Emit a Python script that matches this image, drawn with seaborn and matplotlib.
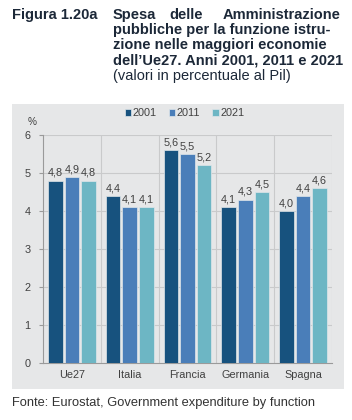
import matplotlib
matplotlib.use("Agg")
import matplotlib.pyplot as plt
import seaborn as sns
import pandas as pd
from matplotlib.patches import Rectangle

paesi = ["Ue27", "Italia", "Francia", "Germania", "Spagna"]
anni = ["2001", "2011", "2021"]
v2001 = [4.8, 4.4, 5.6, 4.1, 4.0]
v2011 = [4.9, 4.1, 5.5, 4.3, 4.4]
v2021 = [4.8, 4.1, 5.2, 4.5, 4.6]
yticks = [0, 1, 2, 3, 4, 5, 6]

colori = {"2001": "#17527e", "2011": "#4a7eb9", "2021": "#6db6c4"}

df = pd.DataFrame({
    "paese": paesi * 3,
    "anno": ["2001"] * 5 + ["2011"] * 5 + ["2021"] * 5,
    "valore": v2001 + v2011 + v2021,
})

sns.set_style("white")
plt.rcParams["font.family"] = ["Liberation Sans", "DejaVu Sans"]

fig = plt.figure(figsize=(3.52, 4.2), dpi=100)
# pannello grigio dietro al grafico
fig.patches.append(Rectangle((12 / 352, 31 / 420), 332 / 352, 285 / 420,
                             transform=fig.transFigure, facecolor="#e6e7e8",
                             edgecolor="none", zorder=-5))

ax = fig.add_axes([43 / 352, 57 / 420, 289 / 352, 228 / 420])
ax.set_facecolor("none")
sns.barplot(data=df, x="paese", y="valore", hue="anno", palette=colori,
            saturation=1, width=0.86, gap=0.12, edgecolor="#dfe6ea",
            linewidth=0.5, ax=ax, zorder=3)

for c in ax.containers:
    ax.bar_label(c, fmt=lambda v: f"{v:.1f}".replace(".", ","), padding=2,
                 fontsize=7.8, color="#404040")

ax.set_ylim(0, 6)
ax.set_xlim(-0.5, 4.5)
ax.set_yticks(yticks)
ax.set_xlabel("")
ax.set_ylabel("")
for v in yticks[1:]:
    ax.axhline(v, color="#c9cacb", lw=0.8, zorder=1)
for x in [0.5, 1.5, 2.5, 3.5, 4.5]:
    ax.axvline(x, color="#c9cacb", lw=0.8, zorder=1)
for s in ["top", "right"]:
    ax.spines[s].set_visible(False)
for s in ["left", "bottom"]:
    ax.spines[s].set_color("#9a9a9a")
    ax.spines[s].set_linewidth(0.8)
ax.set_xticks([0, 1, 2, 3, 4])
ax.set_xticklabels(paesi)
ax.set_xticks([-0.5, 0.5, 1.5, 2.5, 3.5, 4.5], minor=True)
ax.tick_params(axis="x", which="major", length=0, pad=5, labelsize=7.8, colors="#404040")
ax.tick_params(axis="x", which="minor", length=3, color="#9a9a9a", width=0.8, direction="out")
ax.tick_params(axis="y", length=3, color="#9a9a9a", width=0.8, pad=6, labelsize=7.8, labelcolor="#404040", left=True)

ax.legend(loc="lower center", bbox_to_anchor=(0.49, 1.03), ncol=3, frameon=False,
          fontsize=7.8, handlelength=0.6, handleheight=0.6, handletextpad=0.15,
          columnspacing=1.1, labelcolor="#404040")
fig.text(28 / 352, 1 - 122 / 420, "%", fontsize=7.2, color="#404040", va="center")

tc = "#1c2838"
fig.text(12 / 352, 1 - 15 / 420, "Figura 1.20a", fontsize=10.5, weight="bold",
         color=tc, va="center")
x0, x1 = 113 / 352, 341 / 352
fig.text(x0, 1 - 15 / 420, "Spesa", fontsize=10.5, weight="bold", color=tc, va="center")
fig.text(186 / 352, 1 - 15 / 420, "delle", fontsize=10.5, weight="bold", color=tc, va="center", ha="center")
fig.text(x1, 1 - 15 / 420, "Amministrazione", fontsize=10.5, weight="bold", color=tc, va="center", ha="right")
righe = ["pubbliche per la funzione istru-",
         "zione nelle maggiori economie",
         "dell\u2019Ue27. Anni 2001, 2011 e 2021"]
for i, r in enumerate(righe):
    fig.text(x0, 1 - (30 + 15.3 * i) / 420, r, fontsize=10.5, weight="bold",
             color=tc, va="center")
fig.text(x0, 1 - 76 / 420, "(valori in percentuale al Pil)", fontsize=10.5,
         color=tc, va="center")

fig.text(12 / 352, 1 - 403 / 420, "Fonte: Eurostat, Government expenditure by function",
         fontsize=9.3, color="#333333", va="center")

fig.savefig("out.png", dpi=100)
